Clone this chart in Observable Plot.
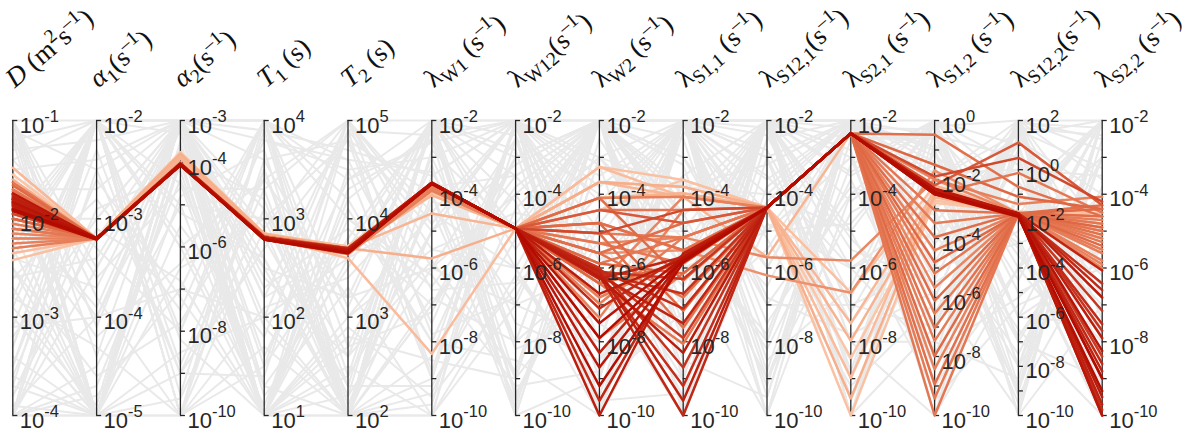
<!DOCTYPE html>
<html><head><meta charset="utf-8">
<script src="https://cdn.jsdelivr.net/npm/d3@7"></script>
<script src="https://cdn.jsdelivr.net/npm/@observablehq/plot@0.6"></script>
<style>body{margin:0;background:#fff}#chart svg{display:block}</style>
</head><body><div id="chart"></div>
<script>
// ---- axes (log10 exponents) ----
const headerSymbols = ["D","α","α","T","T","λ","λ","λ","λ","λ","λ","λ","λ","λ"];
const headerItalic  = [1,1,1,1,1,0,0,0,0,0,0,0,0,0];
const headerSubs    = ["","1","2","1","2","W1","W12","W2","S1,1","S12,1","S2,1","S1,2","S12,2","S2,2"];
const headerUnits   = [" (m{2}s{–1})","(s{–1})","(s{–1})"," (s)"," (s)"," (s{–1})","(s{–1})"," (s{–1})"," (s{–1})","(s{–1})"," (s{–1})"," (s{–1})","(s{–1})"," (s{–1})"];
const axisLo = [-4,-5,-10,1,2,-10,-10,-10,-10,-10,-10,-10,-10,-10];
const axisHi = [-1,-2,-3,4,5,-2,-2,-2,-2,-2,-2,0,2,-2];
const labeledTicks = [
  [-1,-2,-3,-4],[-2,-3,-4,-5],[-3,-4,-6,-8,-10],[4,3,2,1],[5,4,3,2],
  [-2,-4,-6,-8,-10],[-2,-4,-6,-8,-10],[-2,-4,-6,-8,-10],[-2,-4,-6,-8,-10],
  [-2,-4,-6,-8,-10],[-2,-4,-6,-8,-10],[0,-2,-4,-6,-8,-10],[2,0,-2,-4,-6,-8,-10],[-2,-4,-6,-8,-10]
];

// ---- background (grey) samples, log10 values per axis ----
const greyLines = [
[-1.2,-5,-3.5,1,4.3,-2.5,-10,-3,-2,-6,-2.2,-0.3,-10,-2],
[-4,-2,-10,3.5,2,-9,-2,-10,-3.5,-2,-8,-10,1.5,-6],
[-2.5,-5,-3,2.2,5,-6,-4,-2,-10,-3,-2,-5,-3,-10],
[-1,-3.8,-10,4,3.1,-2,-8,-6,-2,-10,-4,0,-6,-3],
[-3.3,-2,-5,1,2.5,-10,-2.5,-4,-7,-2,-10,-2,2,-8],
[-1.6,-5,-6.5,3,4.8,-4,-10,-9,-2.3,-5,-3,-8,-1,-2],
[-4,-2.5,-3,2.6,2,-7,-3,-2,-5,-8,-2,-0.5,-8,-5],
[-2.8,-4.3,-10,1.5,3.8,-2,-6,-10,-2,-3.5,-6,-3,1,-10],
[-1,-2,-8,3.8,4.5,-3,-2,-5.5,-9,-2,-2.8,-10,-4,-4],
[-3.6,-5,-4,1,2.8,-8.5,-9,-2,-4,-6.5,-2,-6,2,-2.5],
[-2,-3,-3,4,2,-5,-2,-8,-2,-2,-9,-1,-10,-7],
[-4,-4.8,-7,2,5,-2,-5,-3,-6,-10,-2,-4,-2,-2],
[-1.3,-2.2,-3,1.2,3.3,-10,-7,-2,-2,-4,-5,0,-7,-9],
[-3,-5,-9,3.3,2,-3.5,-2,-6.5,-10,-2,-2,-2.5,0,-3.5],
[-2.3,-2,-4.5,1,4,-6.5,-3.5,-2,-3,-7,-7,-7,1.8,-10],
[-4,-3.5,-3,2.8,2.3,-2.2,-9.5,-4.5,-2,-2,-3.5,-0.2,-5,-5.5],
[-1,-5,-5.5,1.8,4.9,-9,-2,-2,-7.5,-5.5,-2,-9,-1.5,-2],
[-3.5,-2,-10,3.6,3,-4.5,-6,-9.5,-2,-3,-9.5,-3.5,2,-8.5],
[-1.8,-4,-3.2,1,2,-2,-3,-2,-4.5,-9,-4.5,-1.5,-9,-3],
[-2.6,-2.8,-7.5,4,4.6,-7.5,-2.2,-7,-8,-2,-2,-6.5,-0.5,-6.5],
[-4,-5,-3,2.4,2.6,-3,-8,-2,-2,-8.5,-6.5,0,-8,-2],
[-1.1,-2.5,-9,1.4,5,-5.5,-4.5,-5,-9.5,-2.5,-2,-4.5,1,-9.5],
[-3.1,-4,-3.8,3.2,2,-10,-2,-3.5,-2,-4.5,-8.5,-2,-3,-4.5],
[-2,-2,-6,1,3.6,-2.5,-7.5,-8.5,-5.5,-2,-3,-8.5,2,-2],
[-3.8,-3.2,-3,4,4.2,-8,-3,-2,-3,-6,-2,-1,-6,-7.5],
[-1.5,-5,-8.5,2,2,-4,-9,-6,-2,-2,-5.5,-5.5,-2.5,-3],
[-2.9,-2,-3,1.6,4.4,-2,-5.5,-2,-8.5,-9.5,-2.5,-0.5,0.5,-10],
[-4,-4.5,-5,3,2.2,-6,-2.5,-9,-2,-3,-7.5,-3,-9.5,-2.5],
[-1,-3.5,-3,1,2.9,-9.5,-6.5,-4,-6.5,-2,-2,-10,-1,-5],
[-2.2,-2,-9.5,3.9,4.7,-3.5,-2,-2,-2,-7.5,-4,-2,1.5,-8],
[-3.4,-5,-4,2.5,2,-7,-4,-7.5,-9,-2,-10,-0.8,-4.5,-2],
[-1.7,-2.7,-3,1.3,3.5,-2,-10,-3,-3.8,-4,-2,-6,2,-6],
[-3.9,-4,-7,4,2.4,-5,-3.2,-2,-7,-2,-6,-3.8,-7.5,-3.8],
[-2.4,-2,-3.3,1,4.1,-8,-8.5,-10,-2,-6,-2,-1.8,0,-9],
[-1,-5,-10,2.9,5,-4.5,-2,-5,-5,-2,-8,-7.5,-8.5,-2],
[-3.2,-3,-3,1.9,2,-2.8,-5,-2,-2.5,-9,-3.2,0,-2,-7],
[-4,-2,-6,3.4,3.2,-6,-7,-6,-10,-3.8,-2,-4,1.2,-4],
[-2.1,-5,-3.6,1,4.5,-9,-2,-8,-2,-2,-9,-2.8,-6.5,-10],
[-1.4,-3.3,-8,4,2.7,-3.2,-9.8,-2.5,-6,-5,-4.8,-0.2,2,-2.8],
[-3.7,-2,-3,2.3,3.9,-7,-3.8,-2,-3.2,-10,-2,-9.5,-5.5,-6],
[-2.7,-5,-4.8,3.7,2,-2,-2.8,-9.8,-2,-2.8,-7,-5,1.6,-3.3],
[-1,-4.1,-3,1,3,-5.5,-6,-2,-8,-2,-2.5,-0.6,-3.5,-8],
[-3.5,-2.3,-9,2.7,4.8,-8.8,-2,-4.2,-2,-7,-3.8,-3.2,-9,-2],
[-4,-5,-3,3.9,2.1,-4.2,-4.8,-2,-4.2,-2,-10,-7,0.8,-6.8],
[-2.1,-2,-5.8,1.1,4.2,-2.3,-8.2,-7.2,-2,-8,-2,-1.2,-1.8,-2],
[-1.9,-3.9,-3,3.1,2,-9.7,-2,-3.2,-9.8,-4.8,-6,-8,2,-9.2],
[-3,-5,-10,2.1,3.4,-3.8,-3.5,-2,-5.8,-2,-2.2,-2.2,-7,-4.2],
[-1.2,-2,-3,4,4,-6.2,-9.2,-8.8,-2,-2.2,-8.8,0,-0.8,-7.2],
[-3.8,-2.9,-4.2,1,2.4,-2,-2,-5.8,-3.5,-9.2,-2,-4.8,1.9,-2.2],
[-2.5,-4.6,-7.8,3.4,5,-7.8,-6.8,-2,-7.8,-2,-4.2,-0.4,-6,-5.8],
[-1.5,-2.4,-3,2.9,2,-2,-9,-2,-2,-5,-2,-9,-4,-2],
[-3.9,-5,-3.9,1,4.9,-5,-2,-10,-6,-2,-9,0,1,-9],
[-2.8,-2,-8.8,3.5,2.3,-9.2,-5.2,-2,-2,-9.5,-2,-3.5,-8,-3],
[-1,-4.4,-3,2.2,3.7,-2,-3.5,-6.2,-10,-2,-5.2,-6.8,2,-5],
[-4,-3.1,-6.8,1,2,-6.8,-8,-2,-3.8,-3.2,-2,-1.4,-3.2,-10],
[-2.3,-5,-3,4,4.4,-2.6,-2,-3.8,-2,-6.8,-7.8,-5.8,-9.8,-2],
[-3.3,-2,-10,1.7,2,-10,-6.2,-9.2,-7.2,-2,-2,0,0.2,-7.8],
[-1.2,-3.6,-4.6,3.3,5,-4.8,-2,-2,-4.8,-8.2,-3.6,-7.8,-5.2,-4.8],
[-2.9,-4.9,-3,2.5,3.2,-2,-9.4,-5.2,-2,-2,-9.6,-2.6,1.4,-2],
[-3.6,-2.6,-7.2,1,2.7,-7.2,-3,-2,-8.8,-4.2,-2,-0.9,-2.8,-9.6],
[-1.7,-5,-3,3.8,4.6,-3.4,-7,-8,-2,-2,-5,-9.2,2,-3.6],
[-4,-2,-5.2,2.6,2,-8.4,-2,-3,-5.2,-7.8,-2,-2,-9.2,-5.4],
[-2.6,-3.4,-3,1,3.8,-2,-4.2,-10,-2,-2.4,-6.8,-0.1,-4,-8.8],
[-1.1,-5,-9.6,3.1,2.6,-5.8,-8.8,-2,-9,-2,-2,-4.2,1.7,-2.4],
[-3.1,-2,-3,1.5,4.9,-2.4,-2,-6.8,-2,-5.2,-9.2,-6.2,-1.2,-6.2],
[-2,-4.2,-6.4,4,2,-9.4,-4.4,-2,-4.6,-2,-3.4,0,-8.8,-2],
[-3.7,-5,-3,2,3.6,-4.4,-9.6,-4.8,-2,-8.8,-2,-7.2,0.6,-9.4],
[-1.4,-2,-8.2,1,2.2,-2,-2.4,-8.4,-6.8,-2,-7.2,-1.6,-6.8,-4.4],
[-2.4,-3.7,-3,3.6,4.8,-6.6,-6.4,-2,-2,-3.6,-2,-5.4,2,-7.4],
[-4,-4.7,-4.4,1.3,2,-2,-2,-9.6,-9.4,-2,-10,-0.4,-2.2,-2]
];

// ---- highlighted (best-fit) samples, log10 values per axis ----
const colorLines = [
[-1.80,-3.2,-4.03,2.81,3.68,-3.70,-4.93,-6.3,-5.70,-4.36,-2.35,-2.40,-1.78,-6.07],
[-1.86,-3.2,-4.05,2.80,3.66,-3.72,-4.93,-6.7,-5.75,-4.36,-2.35,-2.45,-1.80,-6.8],
[-1.76,-3.21,-4.03,2.81,3.70,-3.69,-4.93,-7.1,-5.65,-4.36,-2.35,-2.35,-1.84,-7.52],
[-1.83,-3.2,-4.07,2.80,3.67,-3.70,-4.93,-7.5,-5.72,-4.36,-2.35,-2.50,-1.78,-8.25],
[-1.90,-3.2,-4.04,2.79,3.65,-3.71,-4.93,-7.9,-5.80,-4.36,-2.35,-2.42,-1.88,-8.99],
[-1.81,-3.2,-4.02,2.81,3.69,-3.70,-4.93,-8.3,-5.68,-4.36,-2.35,-2.38,-1.82,-9.70],
[-1.74,-3.2,-4.03,2.80,3.68,-3.68,-4.93,-8.7,-5.75,-4.36,-2.35,-2.30,-1.78,-10],
[-1.92,-3.21,-4.05,2.79,3.66,-3.72,-4.93,-9.2,-5.85,-4.36,-2.35,-2.50,-1.92,-9.34],
[-1.85,-3.2,-4.03,2.80,3.68,-3.70,-4.93,-9.6,-5.70,-4.36,-2.35,-2.45,-1.86,-8.6],
[-1.78,-3.2,-4.03,2.81,3.68,-3.70,-4.93,-10,-5.60,-4.36,-2.35,-2.36,-1.79,-7.9],
[-1.82,-3.2,-4.03,2.80,3.68,-3.70,-4.93,-6.10,-6.3,-4.36,-2.35,-2.40,-1.81,-7.16],
[-1.88,-3.2,-4.04,2.79,3.67,-3.71,-4.93,-6.15,-6.7,-4.36,-2.35,-2.45,-1.84,-6.42],
[-1.77,-3.2,-4.03,2.81,3.69,-3.69,-4.93,-6.05,-7.1,-4.36,-2.35,-2.35,-1.79,-9.0],
[-1.84,-3.2,-4.06,2.80,3.66,-3.70,-4.93,-6.20,-7.5,-4.36,-2.35,-2.42,-1.82,-10],
[-1.80,-3.2,-4.03,2.80,3.68,-3.70,-4.93,-6.10,-7.9,-4.36,-2.35,-2.38,-1.79,-8.4],
[-1.91,-3.21,-4.04,2.79,3.65,-3.71,-4.93,-6.25,-8.3,-4.36,-2.35,-2.48,-1.87,-9.5],
[-1.75,-3.2,-4.03,2.81,3.68,-3.69,-4.93,-6.00,-8.7,-4.36,-2.35,-2.33,-1.79,-7.7],
[-1.83,-3.2,-4.03,2.80,3.68,-3.70,-4.93,-6.15,-9.2,-4.36,-2.35,-2.40,-1.83,-9.85],
[-1.87,-3.2,-4.05,2.80,3.67,-3.70,-4.93,-6.10,-9.6,-4.36,-2.35,-2.44,-1.85,-8.8],
[-1.79,-3.2,-4.03,2.81,3.68,-3.70,-4.93,-6.20,-10,-4.36,-2.35,-2.37,-1.80,-6.6],
[-1.63,-3.2,-4.0,2.82,3.70,-3.70,-4.93,-4.43,-4.43,-4.36,-2.35,-3.04,-1.78,-5.0],
[-2.1,-3.2,-4.05,2.80,3.68,-3.75,-4.93,-5.06,-5.17,-4.36,-2.35,-3.48,-1.78,-5.5],
[-1.75,-3.2,-4.02,2.81,3.70,-3.70,-4.93,-5.60,-4.78,-4.36,-2.35,-3.96,-1.76,-4.6],
[-2.25,-3.2,-4.05,2.80,3.66,-3.80,-4.93,-4.78,-5.52,-4.36,-2.35,-4.40,-1.78,-5.8],
[-1.9,-3.2,-4.05,2.80,3.68,-3.70,-4.93,-5.88,-6.15,-4.36,-2.35,-4.81,-1.80,-4.9],
[-1.7,-3.2,-4.03,2.82,3.69,-3.70,-4.93,-5.33,-5.88,-4.36,-2.35,-5.19,-1.78,-5.3],
[-2.15,-3.2,-4.05,2.79,3.65,-3.85,-4.93,-6.42,-4.07,-4.36,-2.35,-5.67,-1.78,-6.0],
[-1.95,-3.2,-4.05,2.80,3.68,-3.70,-4.93,-4.10,-6.34,-4.36,-2.35,-6.11,-1.78,-4.4],
[-2.3,-3.2,-4.06,2.79,3.64,-3.90,-4.93,-6.80,-5.71,-4.36,-2.35,-6.55,-1.78,-5.6],
[-1.8,-3.2,-4.04,2.81,3.70,-3.70,-4.93,-5.60,-6.80,-4.36,-2.35,-7.03,-1.78,-5.1],
[-2.05,-3.2,-4.05,2.80,3.67,-3.75,-4.93,-6.97,-5.17,-4.36,-2.35,-7.47,-1.78,-4.7],
[-1.66,-3.2,-4.02,2.82,3.70,-3.70,-4.93,-4.78,-7.16,-4.36,-2.35,-7.99,-1.78,-5.4],
[-2.2,-3.2,-4.05,2.80,3.66,-3.80,-4.93,-7.35,-4.43,-4.36,-2.35,-8.43,-1.78,-5.9],
[-1.9,-3.2,-4.05,2.80,3.68,-3.70,-4.93,-5.06,-7.62,-4.36,-2.35,-8.94,-1.78,-4.3],
[-2.0,-3.2,-4.05,2.80,3.68,-3.72,-4.93,-7.90,-6.15,-4.36,-2.35,-9.42,-1.78,-5.2],
[-1.72,-3.2,-4.04,2.81,3.69,-3.70,-4.93,-6.42,-8.06,-4.36,-2.35,-10,-1.78,-4.8],
[-2.42,-3.2,-3.85,2.84,3.72,-3.70,-4.93,-3.26,-3.61,-4.36,-6.67,-2.2,-1.78,-4.5],
[-1.48,-3.2,-3.78,2.85,3.70,-3.75,-4.93,-3.67,-3.80,-4.36,-7.5,-2.4,-1.72,-4.8],
[-2.2,-3.2,-3.90,2.83,3.68,-4.03,-4.93,-4.10,-3.97,-4.36,-7.97,-2.6,-1.78,-5.2],
[-1.55,-3.2,-3.75,2.85,3.72,-3.70,-4.93,-4.43,-3.61,-4.36,-8.44,-2.8,-1.70,-4.6],
[-2.35,-3.2,-3.88,2.82,3.60,-8.33,-4.93,-3.26,-4.07,-4.36,-8.98,-2.3,-1.78,-5.0],
[-1.6,-3.2,-3.80,2.84,3.70,-5.74,-4.93,-3.67,-3.80,-4.36,-9.54,-2.5,-1.76,-4.4],
[-2.1,-3.2,-3.85,2.83,3.66,-3.97,-4.93,-4.10,-3.97,-4.36,-10,-2.7,-1.78,-5.5],
[-1.7,-3.2,-3.90,2.84,3.70,-4.52,-4.93,-3.67,-4.07,-5.70,-2.35,-2.2,-1.78,-4.9],
[-2.0,-3.2,-4.0,2.80,3.67,-3.80,-4.93,-5.33,-5.17,-5.71,-5.8,-2.0,-1.78,-4.6],
[-1.8,-3.2,-4.0,2.80,3.68,-3.90,-4.93,-5.60,-5.52,-6.20,-6.67,-1.7,-1.78,-5.0],
[-1.85,-3.2,-4.05,2.80,3.68,-3.70,-4.93,-4.43,-4.78,-4.36,-2.35,-2.2,1.1,-4.3],
[-1.95,-3.2,-4.05,2.80,3.68,-3.70,-4.93,-5.06,-4.43,-4.36,-2.35,-1.9,0.48,-4.2],
[-2.1,-3.2,-4.05,2.80,3.68,-3.72,-4.93,-5.88,-5.17,-4.36,-2.35,-2.5,-0.13,-4.5],
[-1.8,-3.2,-4.05,2.80,3.68,-3.70,-4.93,-4.78,-5.52,-4.36,-2.35,-0.48,-0.7,-4.6],
[-2.0,-3.2,-4.05,2.80,3.68,-3.70,-4.93,-6.42,-5.88,-4.36,-2.35,-1.5,-1.1,-4.4],
[-1.75,-3.2,-4.05,2.80,3.68,-3.70,-4.93,-4.10,-4.07,-4.36,-2.35,-2.0,-1.4,-4.07]
];
const colorRank = [
0.92,0.95,0.90,0.97,1.00,0.93,0.96,0.99,0.91,0.94,
0.86,0.88,0.90,0.92,0.85,0.95,0.87,0.89,0.93,0.91,
0.62,0.58,0.66,0.55,0.70,0.60,0.52,0.68,0.56,0.64,0.57,0.69,0.54,0.65,0.59,0.61,
0.12,0.18,0.22,0.08,0.15,0.25,0.10,0.20,
0.50,0.45,
0.75,0.80,0.60,0.65,0.70,0.55
];

// ---- build tables ----
const norm = (v, i) => (v - axisLo[i]) / (axisHi[i] - axisLo[i]);
const greyRows = greyLines.flatMap((vals, id) => vals.map((v, i) => ({id, axis: i, t: norm(v, i)})));
const order = d3.range(colorLines.length).sort((a, b) => colorRank[a] - colorRank[b]);
const colorRows = order.flatMap(k => colorLines[k].map((v, i) => ({id: k, axis: i, t: norm(v, i), c: colorRank[k]})));
const tickRows = axisLo.flatMap((lo, i) => d3.range(lo, axisHi[i] + 1).map(e => ({axis: i, t: norm(e, i)})));
const labelRows = labeledTicks.flatMap((list, i) => list.map(e => ({axis: i, t: norm(e, i), exp: String(e)})));
const headerRows = headerSymbols.map((s, i) => ({axis: i, t: 1, raw: s + headerSubs[i] + headerUnits[i]}));

const sans = "'Liberation Sans', Arial, Helvetica, sans-serif";
const serif = "'Liberation Serif', 'Times New Roman', serif";
const ink = "#262626";

const svg = Plot.plot({
  width: 1188, height: 436,
  margin: 0,
  x: {type: "linear", domain: [0, 13], range: [12.3, 1101.7], axis: null},
  y: {domain: [0, 1], range: [415, 120], axis: null},
  color: {type: "linear", domain: [0, 0.35, 0.7, 1], range: ["#fdd0b4", "#f3a07a", "#df6844", "#b30b00"], interpolate: "rgb"},
  style: {background: "#fff", overflow: "visible"},
  marks: [
    Plot.line(greyRows, {x: "axis", y: "t", z: "id", stroke: "#e9e9e9", strokeWidth: 2, curve: "linear"}),
    Plot.ruleX(d3.range(14), {x: d => d, y1: 0, y2: 1, stroke: ink, strokeWidth: 1.3}),
    Plot.ruleY(tickRows, {y: "t", x1: "axis", x2: d => d.axis + 0.06, stroke: ink, strokeWidth: 1.3}),
    Plot.line(colorRows, {x: "axis", y: "t", z: "id", stroke: "c", strokeWidth: 2.5, curve: "linear"}),
    Plot.text(labelRows, {x: "axis", y: "t", text: () => "10", dx: 7, dy: 12, lineAnchor: "bottom", textAnchor: "start", fontSize: 22, fontFamily: sans, fill: ink}),
    Plot.text(labelRows, {x: "axis", y: "t", text: "exp", dx: 31.5, dy: 1.5, lineAnchor: "bottom", textAnchor: "start", fontSize: 16.5, fontFamily: sans, fill: ink}),
    Plot.text(headerRows, {x: "axis", y: "t", text: "raw", dx: 2, dy: -32, rotate: -40, lineAnchor: "bottom", textAnchor: "start", fontSize: 27, fontFamily: serif, fill: "#111"})
  ]
});

// rich text for headers (italic symbols, sub/superscripts)
const rawList = headerRows.map(d => d.raw);
d3.select(svg).selectAll("text").each(function() {
  const k = rawList.indexOf(this.textContent);
  if (k < 0) return;
  const el = d3.select(this);
  el.text(null);
  let shift = 0;
  const add = (txt, kind) => {
    const target = kind === "sub" ? 6 : kind === "sup" ? -11 : 0;
    const ts = el.append("tspan").text(txt).attr("dy", target - shift);
    shift = target;
    if (kind === "sub" || kind === "sup") ts.attr("font-size", "0.72em");
    if (kind === "it") ts.attr("font-style", "italic");
  };
  add(headerSymbols[k], headerItalic[k] ? "it" : "n");
  if (headerSubs[k]) add(headerSubs[k], "sub");
  const re = /\{([^}]*)\}|[^{]+/g;
  let m;
  while ((m = re.exec(headerUnits[k])) !== null) {
    if (m[1] !== undefined) add(m[1], "sup"); else add(m[0], "n");
  }
});

document.getElementById("chart").appendChild(svg);
</script>
</body></html>
